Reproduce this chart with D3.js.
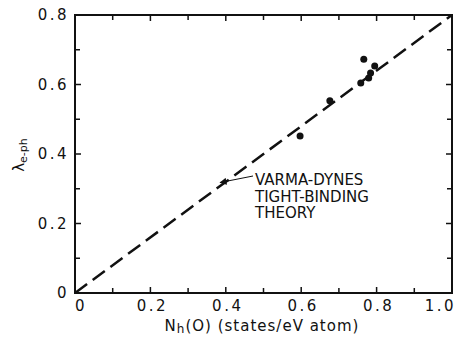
<!DOCTYPE html>
<html>
<head>
<script src="https://d3js.org/d3.v7.min.js"></script>
<style type="text/css">
body { margin:0; background:#fff; }
svg { display:block; }
.tick-label { font-family:"DejaVu Sans", sans-serif; font-size:15px; fill:#111; letter-spacing:2.5px; }
.title { font-family:"DejaVu Sans", sans-serif; fill:#111; }
.note { font-family:"DejaVu Sans", sans-serif; font-size:15px; fill:#111; }
</style>
</head>
<body>
<svg id="chart"></svg>
<script>
// values
var xMajor = [0, 0.2, 0.4, 0.6, 0.8, 1.0];
var xLabels = ["0", "0.2", "0.4", "0.6", "0.8", "1.0"];
var yMajor = [0, 0.2, 0.4, 0.6, 0.8];
var yLabels = ["0", "0.2", "0.4", "0.6", "0.8"];
var xMinor = [0.1, 0.3, 0.5, 0.7, 0.9];
var yMinor = [0.1, 0.3, 0.5, 0.7];

var nh = [0.597, 0.676, 0.758, 0.766, 0.779, 0.784, 0.795];
var lambda = [0.452, 0.553, 0.604, 0.673, 0.619, 0.633, 0.653];

// theory line (varma-dynes)
var theoryX = [0, 1.0];
var theoryY = [0, 0.8];

var noteLines = ["VARMA-DYNES", "TIGHT-BINDING", "THEORY"];

var width = 456, height = 337;
var margin = {left:75, right:4, top:15, bottom:44};

var svg = d3.select("#chart")
  .attr("width", width)
  .attr("height", height);

var x = d3.scaleLinear().domain([0, 1.0]).range([margin.left, width - margin.right]);
var y = d3.scaleLinear().domain([0, 0.8]).range([height - margin.bottom, margin.top]);

var x0 = x(0), x1 = x(1.0), y0 = y(0), y1 = y(0.8);

svg.append("defs").append("clipPath").attr("id", "clip")
  .append("rect").attr("x", x0).attr("y", y1).attr("width", x1 - x0).attr("height", y0 - y1);

// ticks, inward on all four sides
var tk = svg.append("g").attr("stroke", "#111").attr("stroke-width", 1.5);
function xt(v, len) {
  tk.append("line").attr("x1", x(v)).attr("x2", x(v)).attr("y1", y0).attr("y2", y0 - len);
  tk.append("line").attr("x1", x(v)).attr("x2", x(v)).attr("y1", y1).attr("y2", y1 + len);
}
function yt(v, len) {
  tk.append("line").attr("y1", y(v)).attr("y2", y(v)).attr("x1", x0).attr("x2", x0 + len);
  tk.append("line").attr("y1", y(v)).attr("y2", y(v)).attr("x1", x1).attr("x2", x1 - len);
}
xMajor.forEach(function(v) { xt(v, 6); });
xMinor.forEach(function(v) { xt(v, 5); });
yMajor.forEach(function(v) { yt(v, 6); });
yMinor.forEach(function(v) { yt(v, 5); });

// frame
svg.append("rect")
  .attr("x", x0).attr("y", y1)
  .attr("width", x1 - x0).attr("height", y0 - y1)
  .attr("fill", "none").attr("stroke", "#111").attr("stroke-width", 2);

// tick labels
var last = xMajor.length - 1;
svg.selectAll(".xl").data(xMajor).enter().append("text")
  .attr("class", "tick-label")
  .attr("x", function(d, i) { return i == 0 ? x(d) + 6 : (i == last ? x(d) + 4 : x(d) + 2); })
  .attr("y", y0 + 18)
  .attr("text-anchor", function(d, i) { return i == last ? "end" : "middle"; })
  .text(function(d, i) { return xLabels[i]; });

svg.selectAll(".yl").data(yMajor).enter().append("text")
  .attr("class", "tick-label")
  .attr("x", x0 - 6)
  .attr("y", function(d) { return y(d) + 5; })
  .attr("text-anchor", "end")
  .text(function(d, i) { return yLabels[i]; });

// axis titles
var xt_ = svg.append("text").attr("class", "title")
  .attr("x", 262).attr("y", 331)
  .attr("text-anchor", "middle")
  .attr("font-size", 15)
  .attr("letter-spacing", 1);
xt_.append("tspan").text("N");
xt_.append("tspan").attr("font-size", 12).attr("dy", 2).text("h");
xt_.append("tspan").attr("dy", -2).text("(O) (states/eV atom)");

var yt_ = svg.append("text").attr("class", "title")
  .attr("transform", "translate(24,155) rotate(-90)")
  .attr("text-anchor", "middle")
  .attr("font-size", 15);
yt_.append("tspan").text("\u03bb");
yt_.append("tspan").attr("font-size", 11).attr("dy", 3).text("e-ph");

// dashed theory line
var line = d3.line().x(function(d) { return x(d[0]); }).y(function(d) { return y(d[1]); });
svg.append("path")
  .datum(d3.zip(theoryX, theoryY))
  .attr("d", line)
  .attr("clip-path", "url(#clip)")
  .attr("fill", "none")
  .attr("stroke", "#111")
  .attr("stroke-width", 2.5)
  .attr("stroke-dasharray", "15,7");

// data points
svg.selectAll(".pt").data(d3.zip(nh, lambda)).enter().append("circle")
  .attr("cx", function(d) { return x(d[0]); })
  .attr("cy", function(d) { return y(d[1]); })
  .attr("r", 3.5)
  .attr("fill", "#111");

// annotation with arrow
svg.append("defs").append("marker")
  .attr("id", "arr").attr("viewBox", "0 0 10 10")
  .attr("refX", 9).attr("refY", 5)
  .attr("markerWidth", 9).attr("markerHeight", 7)
  .attr("orient", "auto")
  .append("path").attr("d", "M0,0 L10,5 L0,10 z").attr("fill", "#111");

svg.append("line")
  .attr("x1", 253).attr("y1", 176)
  .attr("x2", x(0.385)).attr("y2", y(0.318))
  .attr("stroke", "#111").attr("stroke-width", 1)
  .attr("marker-end", "url(#arr)");

svg.selectAll(".note").data(noteLines).enter().append("text")
  .attr("class", "note")
  .attr("x", 255)
  .attr("y", function(d, i) { return 185 + i * 16.5; })
  .text(function(d) { return d; });
</script>
</body>
</html>
